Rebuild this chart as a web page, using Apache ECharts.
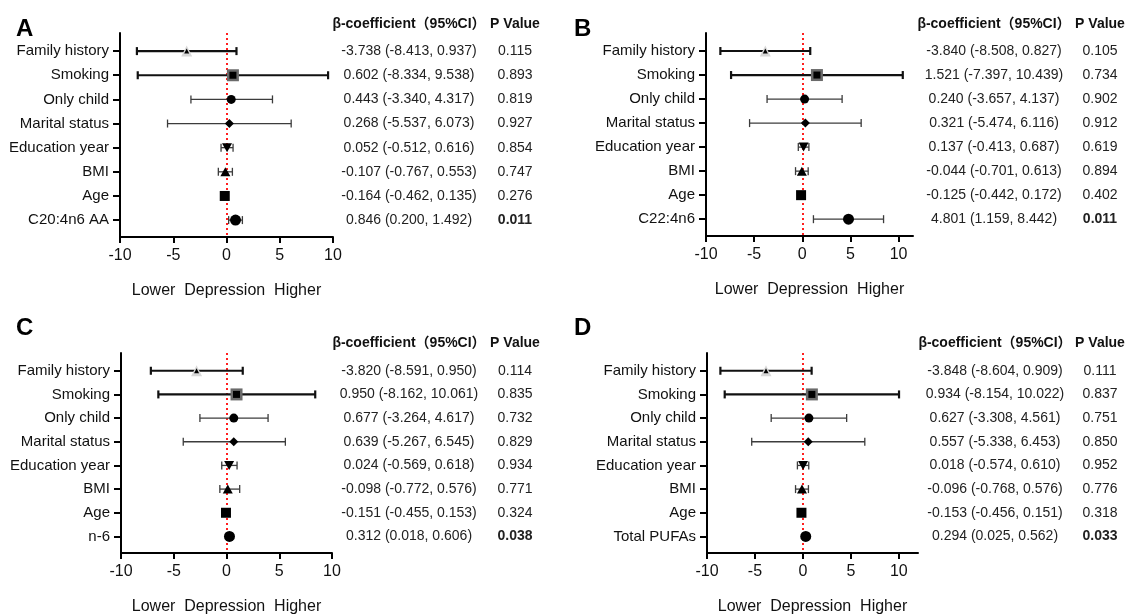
<!DOCTYPE html>
<html>
<head>
<meta charset="utf-8">
<script src="https://cdn.jsdelivr.net/npm/echarts@6/dist/echarts.min.js"></script>
<style>
  html, body { margin: 0; padding: 0; background: #fff; }
  #main { width: 1129px; height: 614px; }
</style>
</head>
<body>
<div id="main"></div>
<script>
// row names, top to bottom
const baseRows = ['Family history', 'Smoking', 'Only child', 'Marital status', 'Education year', 'BMI', 'Age'];
const labelsA = baseRows.concat(['C20:4n6 AA']);
const labelsB = baseRows.concat(['C22:4n6']);
const labelsC = baseRows.concat(['n-6']);
const labelsD = baseRows.concat(['Total PUFAs']);

// plotted estimates and 95% CI (as drawn)
const estA = [-3.738, 0.602, 0.443, 0.268, 0.052, -0.107, -0.164, 0.846];
const lowA = [-8.413, -8.334, -3.340, -5.537, -0.512, -0.767, -0.462, 0.200];
const highA = [0.937, 9.538, 4.317, 6.073, 0.616, 0.553, 0.135, 1.492];

const estB = [-3.840, 1.521, 0.240, 0.321, 0.137, -0.044, -0.125, 4.801];
const lowB = [-8.508, -7.397, -3.657, -5.474, -0.413, -0.701, -0.442, 1.159];
const highB = [0.827, 10.439, 4.137, 6.116, 0.687, 0.613, 0.172, 8.442];

// panel C as it is drawn in the figure (differs a little from its table)
const estC = [-2.84, 0.95, 0.69, 0.69, 0.25, 0.12, -0.05, 0.28];
const lowC = [-7.17, -6.46, -2.52, -4.10, -0.45, -0.63, -0.35, 0.02];
const highC = [1.54, 8.41, 3.94, 5.58, 1.00, 1.25, 0.25, 0.55];

const estD = [-3.848, 0.934, 0.627, 0.557, 0.018, -0.096, -0.153, 0.294];
const lowD = [-8.604, -8.154, -3.308, -5.338, -0.574, -0.768, -0.456, 0.025];
const highD = [0.909, 10.022, 4.561, 6.453, 0.610, 0.576, 0.151, 0.562];

// table columns
const ciA = ['-3.738 (-8.413, 0.937)', '0.602 (-8.334, 9.538)', '0.443 (-3.340, 4.317)', '0.268 (-5.537, 6.073)',
  '0.052 (-0.512, 0.616)', '-0.107 (-0.767, 0.553)', '-0.164 (-0.462, 0.135)', '0.846 (0.200, 1.492)'];
const pA = ['0.115', '0.893', '0.819', '0.927', '0.854', '0.747', '0.276', '0.011'];
const ciB = ['-3.840 (-8.508, 0.827)', '1.521 (-7.397, 10.439)', '0.240 (-3.657, 4.137)', '0.321 (-5.474, 6.116)',
  '0.137 (-0.413, 0.687)', '-0.044 (-0.701, 0.613)', '-0.125 (-0.442, 0.172)', '4.801 (1.159, 8.442)'];
const pB = ['0.105', '0.734', '0.902', '0.912', '0.619', '0.894', '0.402', '0.011'];
const ciC = ['-3.820 (-8.591, 0.950)', '0.950 (-8.162, 10.061)', '0.677 (-3.264, 4.617)', '0.639 (-5.267, 6.545)',
  '0.024 (-0.569, 0.618)', '-0.098 (-0.772, 0.576)', '-0.151 (-0.455, 0.153)', '0.312 (0.018, 0.606)'];
const pC = ['0.114', '0.835', '0.732', '0.829', '0.934', '0.771', '0.324', '0.038'];
const ciD = ['-3.848 (-8.604, 0.909)', '0.934 (-8.154, 10.022)', '0.627 (-3.308, 4.561)', '0.557 (-5.338, 6.453)',
  '0.018 (-0.574, 0.610)', '-0.096 (-0.768, 0.576)', '-0.153 (-0.456, 0.151)', '0.294 (0.025, 0.562)'];
const pD = ['0.111', '0.837', '0.751', '0.850', '0.952', '0.776', '0.318', '0.033'];

const xTicks = [-10, -5, 0, 5, 10];
const panelLetters = ['A', 'B', 'C', 'D'];

const panels = [
  { labels: labelsA, est: estA, low: lowA, high: highA, ci: ciA, p: pA },
  { labels: labelsB, est: estB, low: lowB, high: highB, ci: ciB, p: pB },
  { labels: labelsC, est: estC, low: lowC, high: highC, ci: ciC, p: pC },
  { labels: labelsD, est: estD, low: lowD, high: highD, ci: ciD, p: pD }
];

// layout (outerBoundsMode none so v6 does not shrink the grids)
const grids = [
  { left: 120, top: 33, width: 213, height: 204, outerBoundsMode: 'none' },
  { left: 706, top: 33, width: 207, height: 203, outerBoundsMode: 'none' },
  { left: 121, top: 353, width: 211, height: 200, outerBoundsMode: 'none' },
  { left: 707, top: 353, width: 211, height: 200, outerBoundsMode: 'none' }
];
const xMax = [10, 11.5, 10, 12];
const ciCenter = [409, 994, 409, 995];
const pCenter = [515, 1100, 515, 1100];
const headerY = [24, 24, 343, 343];
const letterPos = [[16, 29], [574, 29], [16, 328], [574, 328]];

// marker looks per row
const shapes = ['triangle', 'rect', 'circle', 'diamond', 'path://M0,0 L10,0 L5,9 Z', 'triangle', 'rect', 'circle'];
const sizes = [5, 7, 9, 9, [10, 9], [10, 9], 10, 11];
const outerRows = [0, 1];
const outerShapes = ['triangle', 'rect'];
const outerSizes = [11, 12];
const outerColors = ['#d8d8d8', '#6a6a6a'];

const FONT = '"Liberation Sans", Arial, "Noto Sans CJK SC", sans-serif';

function renderBar(params, api) {
  const k = api.value(0);
  const a = api.coord([api.value(1), k]);
  const b = api.coord([api.value(2), k]);
  const heavy = k < 2;
  const style = { stroke: heavy ? '#111' : '#3c3c3c', lineWidth: heavy ? 2.2 : 1.3, fill: null };
  const cap = 4;
  return {
    type: 'group',
    children: [
      { type: 'line', shape: { x1: a[0], y1: a[1], x2: b[0], y2: b[1] }, style: style },
      { type: 'line', shape: { x1: a[0], y1: a[1] - cap, x2: a[0], y2: a[1] + cap }, style: style },
      { type: 'line', shape: { x1: b[0], y1: b[1] - cap, x2: b[0], y2: b[1] + cap }, style: style }
    ]
  };
}

const chart = echarts.init(document.getElementById('main'), null, { renderer: 'canvas' });

const xAxes = [], yAxes = [], series = [];
panels.forEach(function (pn, i) {
  xAxes.push({
    type: 'value', gridIndex: i, min: -10, max: xMax[i],
    name: 'Lower  Depression  Higher', nameLocation: 'middle', nameGap: 46,
    nameTextStyle: { fontFamily: FONT, fontSize: 16, color: '#111' },
    axisLine: { onZero: false, lineStyle: { color: '#000', width: 2 } },
    axisTick: { customValues: xTicks, length: 6, lineStyle: { color: '#000', width: 2 } },
    axisLabel: { customValues: xTicks, margin: 11, fontFamily: FONT, fontSize: 16, color: '#111' },
    splitLine: { show: false }
  });
  yAxes.push({
    type: 'value', gridIndex: i, min: -0.75, max: 7.7, inverse: true,
    axisLine: { onZero: false, lineStyle: { color: '#000', width: 2 } },
    axisTick: { customValues: [0, 1, 2, 3, 4, 5, 6, 7], length: 7, lineStyle: { color: '#000', width: 2 } },
    axisLabel: {
      customValues: [0, 1, 2, 3, 4, 5, 6, 7], margin: 11,
      fontFamily: FONT, fontSize: 15, color: '#111',
      formatter: function (v) { return pn.labels[v]; }
    },
    splitLine: { show: false }
  });
  series.push({
    type: 'custom', xAxisIndex: i, yAxisIndex: i,
    renderItem: renderBar, silent: true, z: 2,
    encode: { x: [1, 2], y: 0 },
    data: pn.labels.map(function (_, k) { return [k, pn.low[k], pn.high[k]]; })
  });
  series.push({
    type: 'scatter', xAxisIndex: i, yAxisIndex: i, silent: true, z: 3,
    data: outerRows.map(function (k, j) {
      return { value: [pn.est[k], k], symbol: outerShapes[j], symbolSize: outerSizes[j], itemStyle: { color: outerColors[j], opacity: 1 } };
    }),
    markLine: {
      silent: true, symbol: 'none', z: 2, label: { show: false },
      lineStyle: { color: '#ff1f1f', type: [2, 3], width: 2, cap: 'butt' },
      data: [{ xAxis: 0 }]
    }
  });
  series.push({
    type: 'scatter', xAxisIndex: i, yAxisIndex: i, silent: true, z: 4,
    data: pn.est.map(function (v, k) {
      return { value: [v, k], symbol: shapes[k], symbolSize: sizes[k], itemStyle: { color: '#000', opacity: 1 } };
    })
  });
});

chart.setOption({
  backgroundColor: '#fff',
  animation: false,
  grid: grids,
  xAxis: xAxes,
  yAxis: yAxes,
  series: series
});

// table text and panel letters, rows aligned through the axes
const graphic = [];
panels.forEach(function (pn, i) {
  graphic.push({
    type: 'text', x: letterPos[i][0], y: letterPos[i][1],
    style: { text: panelLetters[i], font: 'bold 24px ' + FONT, fill: '#000', verticalAlign: 'middle' }
  });
  graphic.push({
    type: 'text', x: ciCenter[i], y: headerY[i],
    style: { text: 'β-coefficient（95%CI）', font: 'bold 14px ' + FONT, fill: '#111', align: 'center', verticalAlign: 'middle' }
  });
  graphic.push({
    type: 'text', x: pCenter[i], y: headerY[i],
    style: { text: 'P Value', font: 'bold 14px ' + FONT, fill: '#111', align: 'center', verticalAlign: 'middle' }
  });
  pn.ci.forEach(function (t, k) {
    const y = chart.convertToPixel({ yAxisIndex: i }, k);
    graphic.push({
      type: 'text', x: ciCenter[i], y: y,
      style: { text: t, font: '14px ' + FONT, fill: '#222', align: 'center', verticalAlign: 'middle' }
    });
    graphic.push({
      type: 'text', x: pCenter[i], y: y,
      style: { text: pn.p[k], font: (k === 7 ? 'bold ' : '') + '14px ' + FONT, fill: '#222', align: 'center', verticalAlign: 'middle' }
    });
  });
});
chart.setOption({ graphic: graphic });
</script>
</body>
</html>
